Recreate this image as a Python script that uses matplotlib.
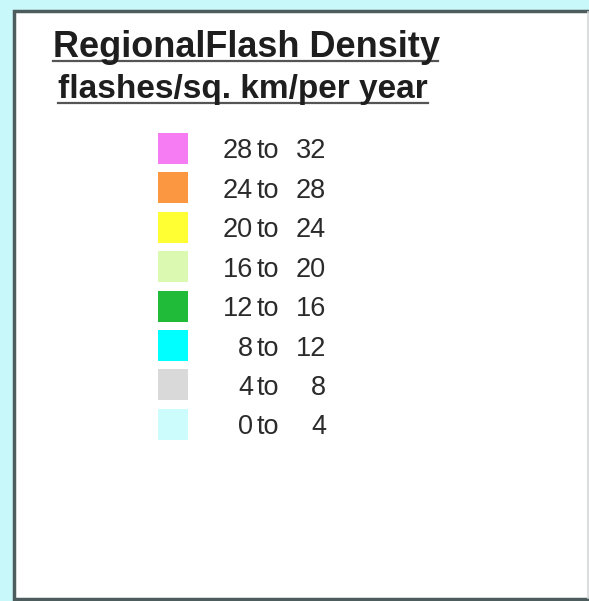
import matplotlib.pyplot as plt
from matplotlib.patches import Rectangle

# legend classes (flashes per sq. km per year)
lower = [28, 24, 20, 16, 12, 8, 4, 0]
upper = [32, 28, 24, 20, 16, 12, 8, 4]
colors = ['#f57cf3', '#fb9641', '#ffff33', '#dcf9b2', '#20bb38', '#00ffff', '#d9d9d9', '#cdfcfc']

title = 'RegionalFlash Density'
subtitle = 'flashes/sq. km/per year'

W, H = 589, 601
fig = plt.figure(figsize=(W / 100, H / 100), dpi=100)
fig.patch.set_facecolor('#c9f8fa')
ax = fig.add_axes([0, 0, 1, 1])
ax.set_xlim(0, W)
ax.set_ylim(H, 0)
ax.axis('off')

# white panel with dark frame (right edge runs off the image)
ax.add_patch(Rectangle((14, 11), 590, 588, facecolor='white', edgecolor='#4d5c5c', linewidth=2.5))
ax.plot([587.5, 587.5], [12, 598], color='#d4d8d8', lw=1.2)

# heading
ax.text(53, 57, title, fontsize=26, fontweight='bold', family='Liberation Sans',
        color='#1e1e1e', va='baseline', ha='left')
ax.plot([53, 438], [61, 61], color='#555555', lw=1.6)
ax.text(58, 98, subtitle, fontsize=24, fontweight='bold', family='Liberation Sans',
        color='#1e1e1e', va='baseline', ha='left')
ax.plot([58, 428], [103, 103], color='#555555', lw=1.6)

# swatches and labels
row0, step = 148.5, 39.4
rows = [row0 + i * step for i in range(len(lower))]
ax.bar([173] * len(rows), [31] * len(rows), bottom=[r - 15.5 for r in rows],
       width=30, color=colors, linewidth=0)
for r, lo, hi in zip(rows, lower, upper):
    kw = dict(fontsize=19.5, family='Liberation Sans', color='#2b2b2b', va='baseline')
    ax.text(253, r + 10, str(lo), ha='right', **kw)
    ax.text(257, r + 10, 'to', ha='left', **kw)
    ax.text(326, r + 10, str(hi), ha='right', **kw)

fig.savefig('out.png', dpi=100, facecolor=fig.get_facecolor())
